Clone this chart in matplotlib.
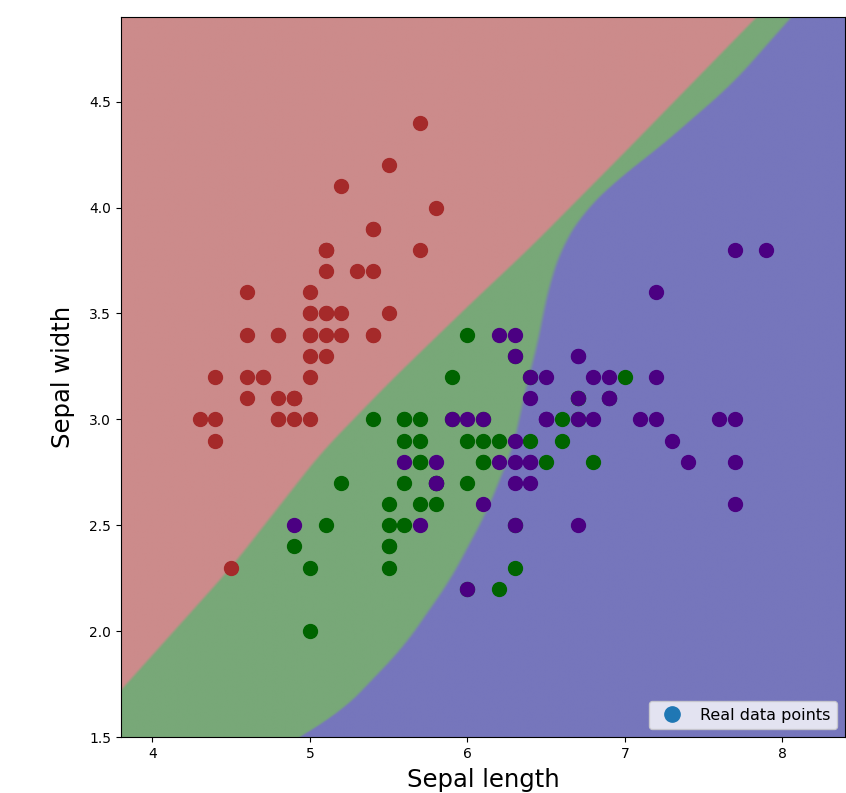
"""
Iris (largo vs ancho del sépalo) con regiones de decisión de un clasificador.
Las fronteras entre regiones se leen de la figura original como curvas x(y).
"""

import numpy as np
import matplotlib.pyplot as plt
from matplotlib.colors import to_rgb
from matplotlib.lines import Line2D

# == Datos ==

setosa_len = [5.1, 4.9, 4.7, 4.6, 5.0, 5.4, 4.6, 5.0, 4.4, 4.9, 5.4, 4.8, 4.8, 4.3, 5.8, 5.7, 5.4,
              5.1, 5.7, 5.1, 5.4, 5.1, 4.6, 5.1, 4.8, 5.0, 5.0, 5.2, 5.2, 4.7, 4.8, 5.4, 5.2, 5.5,
              4.9, 5.0, 5.5, 4.9, 4.4, 5.1, 5.0, 4.5, 4.4, 5.0, 5.1, 4.8, 5.1, 4.6, 5.3, 5.0]
setosa_wid = [3.5, 3.0, 3.2, 3.1, 3.6, 3.9, 3.4, 3.4, 2.9, 3.1, 3.7, 3.4, 3.0, 3.0, 4.0, 4.4, 3.9,
              3.5, 3.8, 3.8, 3.4, 3.7, 3.6, 3.3, 3.4, 3.0, 3.4, 3.5, 3.4, 3.2, 3.1, 3.4, 4.1, 4.2,
              3.1, 3.2, 3.5, 3.1, 3.0, 3.4, 3.5, 2.3, 3.2, 3.5, 3.8, 3.0, 3.8, 3.2, 3.7, 3.3]

versicolor_len = [7.0, 6.4, 6.9, 5.5, 6.5, 5.7, 6.3, 4.9, 6.6, 5.2, 5.0, 5.9, 6.0, 6.1, 5.6, 6.7, 5.6,
                  5.8, 6.2, 5.6, 5.9, 6.1, 6.3, 6.1, 6.4, 6.6, 6.8, 6.7, 6.0, 5.7, 5.5, 5.5, 5.8, 6.0,
                  5.4, 6.0, 6.7, 6.3, 5.6, 5.5, 5.5, 6.1, 5.8, 5.0, 5.6, 5.7, 5.7, 6.2, 5.1, 5.7]
versicolor_wid = [3.2, 3.2, 3.1, 2.3, 2.8, 2.8, 3.3, 2.4, 2.9, 2.7, 2.0, 3.0, 2.2, 2.9, 2.9, 3.1, 3.0,
                  2.7, 2.2, 2.5, 3.2, 2.8, 2.5, 2.8, 2.9, 3.0, 2.8, 3.0, 2.9, 2.6, 2.4, 2.4, 2.7, 2.7,
                  3.0, 3.4, 3.1, 2.3, 3.0, 2.5, 2.6, 3.0, 2.6, 2.3, 2.7, 3.0, 2.9, 2.9, 2.5, 2.8]

virginica_len = [6.3, 5.8, 7.1, 6.3, 6.5, 7.6, 4.9, 7.3, 6.7, 7.2, 6.5, 6.4, 6.8, 5.7, 5.8, 6.4, 6.5,
                 7.7, 7.7, 6.0, 6.9, 5.6, 7.7, 6.3, 6.7, 7.2, 6.2, 6.1, 6.4, 7.2, 7.4, 7.9, 6.4, 6.3,
                 6.1, 7.7, 6.3, 6.4, 6.0, 6.9, 6.7, 6.9, 5.8, 6.8, 6.7, 6.7, 6.3, 6.5, 6.2, 5.9]
virginica_wid = [3.3, 2.7, 3.0, 2.9, 3.0, 3.0, 2.5, 2.9, 2.5, 3.6, 3.2, 2.7, 3.0, 2.5, 2.8, 3.2, 3.0,
                 3.8, 2.6, 2.2, 3.2, 2.8, 2.8, 2.7, 3.3, 3.2, 2.8, 3.0, 2.8, 3.0, 2.8, 3.8, 2.8, 2.8,
                 2.6, 3.0, 3.4, 3.1, 3.0, 3.1, 3.1, 3.1, 2.7, 3.2, 3.3, 3.0, 2.5, 3.0, 3.4, 3.0]

# Frontera setosa / versicolor: x en función de y
borde_rg_y = [1.30, 1.72, 2.30, 2.84, 3.17, 3.53, 3.81, 4.26, 4.90, 5.10]
borde_rg_x = [3.29, 3.80, 4.50, 5.07, 5.50, 6.00, 6.40, 7.00, 7.84, 8.10]

# Frontera versicolor / virginica
borde_gb_y = [1.30, 1.52, 1.61, 1.92, 2.24, 2.56, 2.87, 3.18, 3.34, 3.50, 3.66, 3.81, 3.97,
              4.13, 4.27, 4.58, 4.90, 5.10]
borde_gb_x = [4.50, 4.98, 5.19, 5.59, 5.89, 6.12, 6.29, 6.38, 6.44, 6.48, 6.53, 6.60, 6.73,
              6.95, 7.20, 7.68, 8.06, 8.30]

X_MIN, X_MAX = 3.8, 8.4
Y_MIN, Y_MAX = 1.5, 4.9

colores_region = ["#CC8B8B", "#78A878", "#7676BC"]
colores_puntos = ["#A52A2A", "#006400", "#4B0082"]


def _borde_suave(ys, bys, bxs, ventana=0.2, paso=0.002):
    """Interpola la frontera y la suaviza con media móvil para quitar las esquinas."""
    yd = np.arange(bys[0], bys[-1] + paso, paso)
    xd = np.interp(yd, bys, bxs)
    n = int(ventana / paso)
    xs = np.convolve(xd, np.ones(n) / n, mode="same")
    return np.interp(ys, yd, xs)


# == Regiones (con borde suave) ==

h = 0.004
gx = np.arange(X_MIN, X_MAX + h, h)
gy = np.arange(Y_MIN, Y_MAX + h, h)
xx, yy = np.meshgrid(gx, gy)
x_rg = _borde_suave(gy, borde_rg_y, borde_rg_x)[:, None]
x_gb = _borde_suave(gy, borde_gb_y, borde_gb_x)[:, None]
ancho = 0.025  # transición de unos pocos píxeles
w_rg = np.clip((xx - x_rg) / ancho + 0.5, 0, 1)[..., None]
w_gb = np.clip((xx - x_gb) / ancho + 0.5, 0, 1)[..., None]
c_r, c_g, c_b = (np.array(to_rgb(c)) for c in colores_region)
rgb = c_r * (1 - w_rg) + c_g * w_rg
rgb = rgb * (1 - w_gb) + c_b * w_gb

fig = plt.figure(figsize=(8.46, 7.93), dpi=100)
ax = fig.add_axes([0.143, 0.0706, 0.856, 0.908])

ax.imshow(rgb, extent=[X_MIN, X_MAX, Y_MIN, Y_MAX], origin="lower",
          aspect="auto", interpolation="bilinear")

ax.scatter(setosa_len, setosa_wid, s=100, color=colores_puntos[0], zorder=3)
ax.scatter(versicolor_len, versicolor_wid, s=100, color=colores_puntos[1], zorder=3)
ax.scatter(virginica_len, virginica_wid, s=100, color=colores_puntos[2], zorder=3)

ax.set_xlim(X_MIN, X_MAX)
ax.set_ylim(Y_MIN, Y_MAX)
ax.set_xticks([4, 5, 6, 7, 8])
ax.set_yticks([1.5, 2.0, 2.5, 3.0, 3.5, 4.0, 4.5])
ax.set_xlabel("Sepal length", fontsize=17.5, labelpad=5)
ax.set_ylabel("Sepal width", fontsize=17.5, labelpad=10)

proxy = Line2D([], [], marker="o", linestyle="", markersize=11, color="#1f77b4")
ax.legend([proxy], ["Real data points"], loc="lower right", fontsize=11.5)

fig.savefig("out.png", dpi=100)
